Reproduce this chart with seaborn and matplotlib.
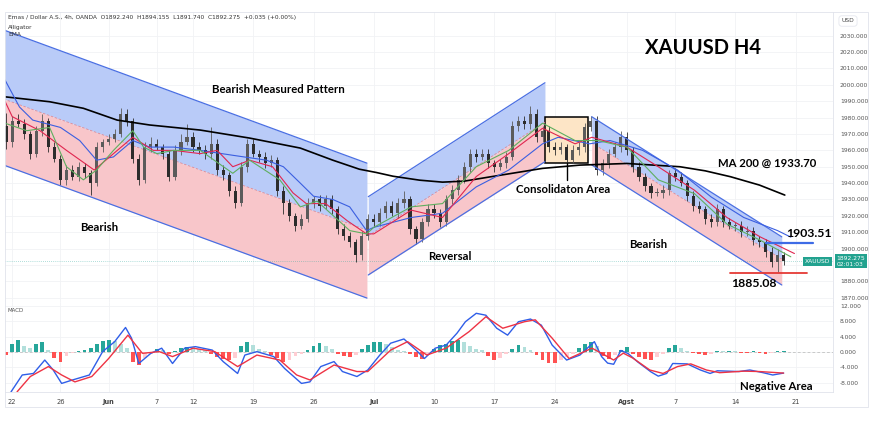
import numpy as np
import matplotlib
matplotlib.use("Agg")
import matplotlib.pyplot as plt
import matplotlib.transforms as mtransforms
from matplotlib.patches import Rectangle
from matplotlib import font_manager as fm
import seaborn as sns

# ------------------------------------------------------------------ data
date_ticks = [0, 4, 8, 12, 15, 20, 25, 30, 35, 40, 45, 51, 55, 60, 65]
date_labels = ["22", "26", "Jun", "7", "12", "19", "26", "Jul", "10", "17", "24", "Agst", "7", "14", "21"]
price_ticks = list(range(1870, 2031, 10))
hidden_price_tick = 1890  # covered by the last-price box
macd_ticks = [-8, -4, 0, 4, 8, 12]

# half-day candles, day -0.5 ... 64.0
first_open = 1975
closes = [
    1965, 1978, 1976, 1970, 1958, 1972, 1978, 1962, 1955, 1942,
    1948, 1944, 1950, 1946, 1940, 1962, 1965, 1967, 1970, 1982,
    1978, 1955, 1942, 1962, 1964, 1962, 1958, 1944, 1960, 1965,
    1968, 1962, 1960, 1958, 1964, 1948, 1945, 1935, 1928, 1950,
    1964, 1958, 1956, 1952, 1954, 1935, 1928, 1920, 1914, 1918,
    1928, 1930, 1926, 1930, 1924, 1912, 1908, 1904, 1896, 1908,
    1918, 1916, 1922, 1926, 1922, 1928, 1930, 1912, 1906, 1916,
    1924, 1922, 1916, 1930, 1936, 1942, 1950, 1958, 1956, 1958,
    1952, 1950, 1952, 1956, 1975, 1978, 1976, 1982, 1968, 1972,
    1962, 1960, 1962, 1954, 1960, 1962, 1974, 1978, 1948, 1952,
    1958, 1962, 1968, 1960, 1950, 1944, 1938, 1934, 1934, 1936,
    1946, 1944, 1940, 1932, 1926, 1924, 1918, 1916, 1924, 1916,
    1914, 1914, 1910, 1911, 1905, 1904, 1898, 1892, 1896, 1892.275,
]
wick_hi = [
    8, 3, 4, 3, 2, 3, 4, 2, 3, 2,
    3, 3, 3, 2, 2, 3, 2, 3, 3, 4,
    3, 2, 3, 3, 4, 3, 2, 2, 3, 5,
    8, 3, 3, 3, 10, 3, 3, 2, 3, 3,
    3, 3, 2, 3, 3, 2, 3, 2, 2, 3,
    3, 2, 3, 3, 3, 2, 3, 2, 2, 3,
    3, 3, 3, 3, 3, 3, 5, 2, 2, 3,
    3, 3, 2, 3, 3, 3, 3, 3, 3, 3,
    3, 2, 3, 3, 3, 3, 3, 5, 3, 3,
    3, 3, 3, 2, 3, 3, 3, 3, 3, 3,
    3, 3, 4, 3, 2, 3, 2, 2, 3, 3,
    2, 3, 3, 2, 3, 3, 2, 3, 3, 2,
    3, 2, 3, 3, 2, 3, 2, 3, 4, 2,
]
wick_lo = [
    4, 3, 2, 3, 3, 2, 3, 3, 2, 3,
    3, 2, 3, 3, 7, 2, 3, 2, 2, 2,
    3, 3, 3, 2, 3, 2, 3, 3, 2, 3,
    2, 3, 2, 3, 3, 3, 3, 3, 3, 2,
    3, 2, 3, 3, 2, 3, 7, 3, 3, 2,
    2, 3, 3, 2, 3, 3, 3, 3, 4, 3,
    3, 3, 2, 3, 2, 3, 3, 3, 3, 2,
    2, 3, 3, 2, 3, 3, 2, 3, 3, 2,
    3, 3, 2, 3, 2, 3, 3, 3, 3, 3,
    3, 3, 2, 3, 2, 3, 3, 2, 3, 3,
    3, 2, 3, 3, 3, 3, 3, 3, 2, 3,
    3, 3, 2, 3, 3, 2, 3, 3, 2, 3,
    2, 3, 3, 2, 3, 3, 3, 3, 6.5, 2,
]
macd_hist = [
    -0.8, 2.0, 3.1, 1.5, 1.0, 2.0, 2.5, 0.5, -1.5, -2.5,
    -1.0, -0.3, 0.3, 0.5, 1.0, 2.0, 2.8, 3.1, 3.0, 2.0,
    1.0, -2.5, -3.4, -1.5, -0.6, 0.8, 0.4, -0.5, 0.3, 1.0,
    1.4, 1.2, 0.8, 0.5, -0.5, -1.2, -1.8, -2.1, -1.5, 1.5,
    2.7, 1.8, 0.8, 0.3, -0.8, -1.5, -2.5, -2.0, -1.0, -0.6,
    0.4, 1.5, 2.3, 1.6, 0.8, -0.4, -1.0, -1.2, -0.8, 0.8,
    1.8, 2.5, 2.7, 2.0, 1.2, 0.6, 0.3, -0.5, -1.4, -1.7,
    -0.8, 0.8, 1.8, 2.2, 2.8, 3.1, 2.5, 1.5, 0.8, 0.4,
    -1.0, -2.1, -1.5, -0.5, 0.8, 1.8, 1.2, 0.6, -0.8, -2.0,
    -2.8, -3.0, -2.2, -1.2, -0.4, 1.0, 2.0, 2.7, 1.5, -1.0,
    -1.7, -0.8, 0.6, 1.4, -0.5, -1.2, -1.8, -2.1, -1.2, -0.5,
    1.0, 1.8, 1.0, 0.3, -0.3, -0.6, -0.8, -0.4, 0.3, 0.2,
    0.3, 0.2, -0.2, -0.3, 0.2, -0.3, -0.5, -0.3, 0.2, 0.2,
]

ma200_days = [-0.6, 3.1, 5.9, 8.7, 11.4, 15.6, 19.7, 23.9, 26.6, 28.8, 30.2, 31.6, 33.8, 35.7, 37.5, 39.8,
              44, 47.1, 51, 55.4, 57.5, 59.6, 62, 64.1]
ma200_vals = [1992.7, 1989.7, 1985.7, 1978.5, 1975.5, 1972.4, 1967.5, 1961.4, 1954, 1948.5, 1946.5, 1944.2,
              1941.8, 1940.6, 1941.2, 1944, 1949, 1951, 1952, 1950, 1947.5, 1943.9, 1938.8, 1932.7]

jaw_days = [-0.6, 0.6, 1.7, 4, 5.6, 7, 8.4, 10, 11.4, 13.4, 15.6, 18.3, 21.1, 22.5, 23.9, 25, 26.6, 28, 29.4,
            30, 33.1, 35.7, 38.5, 41.2, 44, 45.3, 47.9, 49.6, 52.3, 55.2, 58, 60.7, 63.5, 64.6]
jaw_vals = [2003, 1986.5, 1978.5, 1974, 1966, 1954, 1956, 1966, 1962, 1962, 1960, 1957, 1954, 1950, 1940, 1932,
            1930, 1925.5, 1911, 1913, 1919, 1921.6, 1937.7, 1948, 1964, 1968, 1964, 1966, 1960, 1948, 1931.5,
            1919, 1911, 1907]
teeth_days = [-0.6, 0, 2.3, 4.5, 6.8, 8.4, 10, 11.7, 13.4, 15.6, 17, 18.3, 19.7, 21.6, 23.3, 24.4, 26, 27.8,
              29.4, 30, 33.1, 35.7, 38.5, 41.2, 44, 46.7, 48.1, 51, 53.6, 56.6, 59.3, 62.1, 64.9]
teeth_vals = [1990, 1980.6, 1972, 1960, 1948, 1958, 1968, 1960, 1960, 1958, 1960, 1950, 1954, 1950, 1934,
              1927.5, 1927.5, 1917, 1909, 1909, 1923.5, 1919, 1944, 1958, 1973.5, 1964, 1968, 1962, 1950,
              1935.7, 1919, 1907, 1897]
lips_days = [-0.6, 1.2, 3.1, 4.5, 5.9, 7, 8.4, 10, 10.9, 12, 13.4, 15.6, 18.3, 19.7, 22.2, 23.9, 25.3, 28,
             29.4, 30, 33.1, 35.7, 38.5, 41.2, 44, 46.7, 48.6, 51, 53.6, 56.6, 59.3, 62.1, 64.6]
lips_vals = [1976.6, 1972, 1974, 1950, 1942, 1948, 1960, 1972, 1962, 1958, 1960, 1960, 1946, 1954, 1942,
             1925.5, 1929, 1911, 1909, 1913, 1925.5, 1927.5, 1950, 1960, 1976.6, 1966, 1966, 1962, 1942,
             1933.6, 1915, 1905, 1895]

macd_days = [-0.1, 0.83, 1.76, 2.7, 3.4, 4.1, 5.0, 6.4, 7.5, 8.5, 9.4, 9.9, 10.5, 11.5, 12.4, 13.3, 14.3,
             15.2, 16.6, 17.5, 18.7, 19.3, 20.3, 21.7, 22.6, 24.0, 24.7, 25.6, 26.7, 27.4, 28.6, 29.5, 30.5,
             31.4, 32.5, 33.5, 34.2, 35.1, 36.0, 36.9, 37.6, 38.5, 39.3, 40.2, 41.1, 42.0, 43.0, 43.9, 44.8,
             46.0, 47.1, 48.3, 48.9, 49.4, 49.9, 50.5, 51.1, 51.9, 53.0, 53.6, 54.3, 54.8, 56.0, 57.1, 57.9,
             58.5, 60.3, 61.2, 62.3, 63.1, 64.0]
macd_vals = [-10.4, -6.0, -5.6, -2.1, -4.7, -8.2, -7.3, -6.0, 0.1, 2.7, 6.4, 3.6, -3.0, -0.35, 1.0, -3.0,
             1.0, 1.4, 0.5, -2.5, -5.6, -0.8, 0.1, -1.2, -4.3, -8.2, -7.8, -3.8, -2.5, -5.1, -6.4, -4.7,
             -0.8, 2.3, 3.4, 0.5, -1.7, 1.0, 1.8, 4.9, 7.9, 10.1, 9.6, 6.2, 4.4, 7.9, 8.6, 7.0, 1.8, -2.1,
             -0.8, 2.7, -1.2, -2.9, -3.2, 0.4, -0.4, -2.6, -5.2, -6.3, -5.6, -3.0, -3.1, -4.7, -5.6, -4.9,
             -5.1, -4.7, -5.4, -6.0, -5.5]
signal_days = [0.4, 1.5, 3.0, 4.1, 5.2, 6.6, 8.0, 9.6, 10.8, 12.2, 13.3, 15.0, 16.8, 18.7, 20.3, 22.2, 23.6,
               24.7, 26.7, 28.6, 29.5, 31.4, 32.8, 34.4, 36.0, 37.9, 39.3, 40.7, 42.5, 43.4, 44.8, 46.2,
               48.1, 48.9, 49.9, 50.7, 51.5, 52.9, 54.0, 55.2, 56.3, 57.6, 58.7, 60.7, 62.0, 64.0]
signal_vals = [-10.4, -6.4, -3.8, -6.0, -7.8, -6.4, -1.7, 4.4, -0.35, 0.1, -1.2, 1.0, 0.1, -3.8, -0.8, -2.1,
               -6.0, -7.3, -3.4, -5.1, -5.1, 0.5, 2.7, -0.8, 1.0, 5.3, 9.2, 6.2, 7.9, 8.4, 3.6, -1.7, 1.0,
               -0.35, -2.1, -0.3, -1.6, -4.7, -5.6, -3.8, -3.1, -4.7, -5.4, -5.0, -5.1, -5.5]

# drawn channels: [start day, end day] with upper / middle / lower prices
ch1_days, ch1_upper, ch1_mid, ch1_lower = [-0.7, 29.43], [2033.5, 1952.2], [1991.3, 1911.3], [1951.0, 1869.8]
ch2_days, ch2_upper, ch2_mid, ch2_lower = [29.54, 44.2], [1931.7, 2001.3], [1907.8, 1977.2], [1883.9, 1953.1]
ch3_days, ch3_upper, ch3_mid, ch3_lower = [48.08, 63.85], [1980.55, 1907.2], [1964.5, 1893.6], [1951.1, 1877.8]

box_days, box_prices = [44.2, 47.8], [1952.5, 1980.6]
box_stem_day, box_stem_prices = 46.03, [1952.5, 1941.9]
res_level, res_days = 1903.51, [62.5, 66.45]
sup_level, sup_days = 1885.08, [59.56, 65.95]
last_price = 1892.275

# --------------------------------------------------------------- styling
sns.set_theme(style="white")
names = {f.name for f in fm.fontManager.ttflist}
ANN = "Lato" if "Lato" in names else "DejaVu Sans"
plt.rcParams["font.family"] = ["DejaVu Sans"]

W, H = 870, 423
fig = plt.figure(figsize=(W / 100, H / 100), dpi=100)
fig.patch.set_facecolor("white")

def fx(px):
    return px / W

def fy(py):
    return 1 - py / H

ax = fig.add_axes([fx(5), fy(302), fx(828), 290 / H])
ax2 = fig.add_axes([fx(5), fy(392), fx(828), 90 / H], sharex=ax)

XMIN, XMAX = -0.6, 68.1
ax.set_xlim(XMIN, XMAX)
ax.set_ylim(1867.4, 2044.5)
ax2.set_ylim(-10.44, 13.05)

GRID = "#f1f2f5"
SPINE = "#e0e3eb"
for a in (ax, ax2):
    a.set_facecolor("white")
    for s in a.spines.values():
        s.set_color(SPINE)
        s.set_linewidth(0.6)
    a.spines["left"].set_visible(False)
    a.spines["top"].set_visible(False)
    for d in date_ticks:
        a.axvline(d, color=GRID, lw=0.6, zorder=0)

for p in price_ticks:
    ax.axhline(p, color=GRID, lw=0.6, zorder=0)
for m in macd_ticks:
    ax2.axhline(m, color=GRID, lw=0.6, zorder=0)

# channels
BLUE_FILL = "#b9cbf8"
PINK_FILL = "#f8c6ca"
CH_LINE = "#4a6fe3"

def draw_channel(days, upper, mid, lower):
    ax.fill_between(days, mid, upper, color=BLUE_FILL, lw=0, zorder=1)
    ax.fill_between(days, lower, mid, color=PINK_FILL, lw=0, zorder=1)
    sns.lineplot(x=days, y=upper, ax=ax, color=CH_LINE, lw=0.9, zorder=4, legend=False)
    sns.lineplot(x=days, y=lower, ax=ax, color=CH_LINE, lw=0.9, zorder=4, legend=False)
    ax.plot(days, mid, color="#e08a95", lw=0.6, ls=(0, (3, 2)), zorder=2)

draw_channel(ch1_days, ch1_upper, ch1_mid, ch1_lower)
draw_channel(ch2_days, ch2_upper, ch2_mid, ch2_lower)
draw_channel(ch3_days, ch3_upper, ch3_mid, ch3_lower)

# consolidation box
ax.add_patch(Rectangle((box_days[0], box_prices[0]), box_days[1] - box_days[0],
                       box_prices[1] - box_prices[0], facecolor="#fde5c6", edgecolor="black",
                       lw=1.1, zorder=1.5))
ax.plot([box_stem_day, box_stem_day], box_stem_prices, color="black", lw=1.0, zorder=4)

# candles
cdays = np.arange(-0.5, 64.01, 0.5)
c = np.array(closes, dtype=float)
o = np.array([first_open] + closes[:-1], dtype=float)
hi = np.maximum(o, c) + np.array(wick_hi)
lo = np.minimum(o, c) - np.array(wick_lo)
up = c >= o
ccol = np.where(up, "#5b5b5b", "#2c2c2c")
ax.vlines(cdays, lo, hi, colors=ccol, lw=0.6, zorder=3)
body = np.where(np.abs(c - o) < 0.6, 0.6, c - o)
ax.bar(cdays, body, bottom=o, width=0.26, color=ccol, lw=0, zorder=3)

# moving averages
sns.lineplot(x=ma200_days, y=ma200_vals, ax=ax, color="black", lw=1.2, zorder=5, legend=False)
sns.lineplot(x=jaw_days, y=jaw_vals, ax=ax, color="#3b5fe0", lw=0.8, zorder=5, legend=False)
sns.lineplot(x=teeth_days, y=teeth_vals, ax=ax, color="#e0264f", lw=0.8, zorder=5, legend=False)
sns.lineplot(x=lips_days, y=lips_vals, ax=ax, color="#5fae5f", lw=0.8, zorder=5, legend=False)

# horizontal levels
ax.axhline(last_price, color="#26a69a", lw=0.5, ls=(0, (1, 2)), alpha=0.7, zorder=2)
ax.plot(res_days, [res_level, res_level], color="#3d6be6", lw=1.6, zorder=6)
ax.plot(sup_days, [sup_level, sup_level], color="#e53935", lw=1.3, zorder=6)

# annotations
def ann(x, y, s, size, a=ax, **kw):
    a.text(x, y, s, fontsize=size, fontweight="bold", family=ANN, color="black",
           ha="center", va="center", zorder=8, **kw)

ann(57.3, 2022.5, "XAUUSD H4", 14.5)
ann(22.05, 1997.4, "Bearish Measured Pattern", 8.2)
ann(7.2, 1912.6, "Bearish", 8.2)
ann(36.3, 1894.9, "Reversal", 8.2)
ann(45.7, 1935.8, "Consolidaton Area", 8.2)
ann(52.8, 1902.8, "Bearish", 8.2)
ann(62.6, 1952.3, "MA 200 @ 1933.70", 8.2)
ann(66.1, 1909.3, "1903.51", 8.8)
ann(61.5, 1878.8, "1885.08", 8.8)
ann(63.4, -9.06, "Negative Area", 8.2, a=ax2)

# price labels on the right
blend = mtransforms.blended_transform_factory(ax.transAxes, ax.transData)
ax.text(0.997, last_price, "XAUUSD", transform=blend, ha="right", va="center", fontsize=4.3,
        color="white", zorder=9, bbox=dict(boxstyle="square,pad=0.3", fc="#22a28f", ec="none"))
ax.text(1.004, last_price, "1892.275\n02:01:03", transform=blend, ha="left", va="center", fontsize=4.3,
        color="white", linespacing=1.15, zorder=9, clip_on=False,
        bbox=dict(boxstyle="square,pad=0.3", fc="#22a28f", ec="none"))

ax.yaxis.tick_right()
ax.set_yticks(price_ticks)
ax.set_yticklabels(["" if p == hidden_price_tick else f"{p:.3f}" for p in price_ticks])
ax.tick_params(axis="y", length=0, labelsize=4.3, colors="#555555", pad=5)
ax.tick_params(axis="x", length=0, labelbottom=False)

# MACD panel
h = np.array(macd_hist)
prev = np.concatenate([[h[0]], h[:-1]])
hcol = np.where(h >= 0, np.where(h >= prev, "#26a69a", "#b2dfdb"),
                np.where(h <= prev, "#ff5252", "#ffcdd2"))
ax2.bar(cdays, h, width=0.32, color=hcol, lw=0, zorder=2)
ax2.axhline(0, color="#b8b8b8", lw=0.5, ls=(0, (4, 3)), zorder=1)
sns.lineplot(x=macd_days, y=macd_vals, ax=ax2, color="#2f5ee8", lw=1.0, zorder=4, legend=False)
sns.lineplot(x=signal_days, y=signal_vals, ax=ax2, color="#ee3344", lw=1.0, zorder=4, legend=False)

ax2.yaxis.tick_right()
ax2.set_yticks(macd_ticks)
ax2.set_yticklabels([f"{m:.3f}" for m in macd_ticks])
ax2.tick_params(axis="y", length=0, labelsize=4.3, colors="#555555", pad=5)
ax2.set_xticks(date_ticks)
ax2.set_xticklabels(date_labels)
ax2.tick_params(axis="x", length=0, labelsize=4.8, colors="#444444", pad=5)
for lab in ax2.get_xticklabels():
    if lab.get_text() in ("Jun", "Jul", "Agst"):
        lab.set_fontweight("bold")
ax2.set_xlim(XMIN, XMAX)
ax.set_xlabel("")
ax.set_ylabel("")
ax2.set_xlabel("")
ax2.set_ylabel("")

# header / panel labels
fig.text(fx(8), fy(17), "Emas / Dollar A.S., 4h, OANDA  O1892.240  H1894.155  L1891.740  C1892.275  +0.035 (+0.00%)",
         fontsize=4.2, color="#333333", ha="left", va="center")
fig.text(fx(8), fy(28), "Alligator", fontsize=4.2, color="#333333", ha="left", va="center")
fig.text(fx(8), fy(35), "EMA", fontsize=4.2, color="#333333", ha="left", va="center")
fig.text(fx(8), fy(311), "MACD", fontsize=4.0, color="#555555", ha="left", va="center")
fig.text(fx(848), fy(21), "USD", fontsize=4.3, color="#444444", ha="center", va="center",
         bbox=dict(boxstyle="round,pad=0.45", fc="white", ec="#e0e3eb", lw=0.5))

# outer frame
fig.patches.append(Rectangle((fx(5), fy(407)), fx(863), 395 / H, transform=fig.transFigure,
                             fill=False, ec="#e0e3eb", lw=0.6))

fig.savefig("out.png", dpi=100)
